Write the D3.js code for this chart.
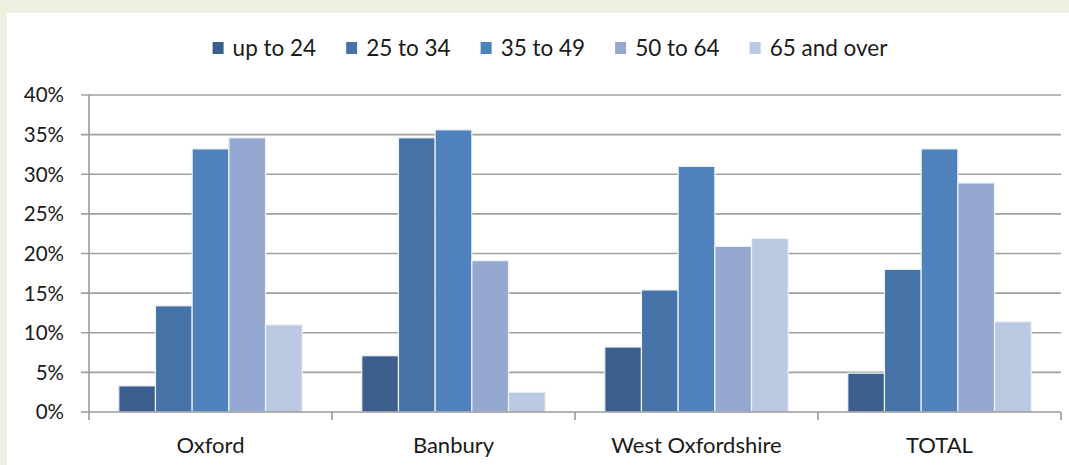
<!DOCTYPE html>
<html>
<head>
<meta charset="utf-8">
<script src="https://cdn.jsdelivr.net/npm/d3@7"></script>
<style>
  html, body { margin: 0; padding: 0; background: #EBF1DE; }
  svg { display: block; }
  text { font-family: Lato, "Open Sans", sans-serif; fill: #1a1a1a; }
</style>
</head>
<body>
<svg id="chart" width="1069" height="465"></svg>
<script>
// Age-band shares by area
const categories = ["Oxford", "Banbury", "West Oxfordshire", "TOTAL"];
const seriesNames = ["up to 24", "25 to 34", "35 to 49", "50 to 64", "65 and over"];
const upTo24     = [3.3, 7.1, 8.2, 4.9];
const age25to34  = [13.4, 34.6, 15.4, 18.0];
const age35to49  = [33.2, 35.6, 31.0, 33.2];
const age50to64  = [34.6, 19.1, 20.9, 28.9];
const age65plus  = [11.0, 2.5, 21.9, 11.4];
const yTicks = [0, 5, 10, 15, 20, 25, 30, 35, 40];

const seriesValues = [upTo24, age25to34, age35to49, age50to64, age65plus];
const colors = ["#3B5E8C", "#4572A7", "#4F81BD", "#95A9D0", "#BAC8E1"];

const svg = d3.select("#chart");

// white chart panel on the green page
svg.append("rect").attr("x", 7).attr("y", 13).attr("width", 1062).attr("height", 452).attr("fill", "#ffffff");

const plot = { left: 89, right: 1061, top: 95, bottom: 412 };

const y = d3.scaleLinear().domain([0, 40]).range([plot.bottom, plot.top]);
const x0 = d3.scaleBand().domain(categories).range([plot.left, plot.right])
  .paddingInner(0.245).paddingOuter(0.1225);
const x1 = d3.scaleBand().domain(seriesNames).range([0, x0.bandwidth()]).padding(0);

// gridlines with left tick marks
svg.append("g")
  .selectAll("line")
  .data(yTicks.filter(d => d > 0))
  .join("line")
  .attr("x1", plot.left - 8).attr("x2", plot.right)
  .attr("y1", d => y(d)).attr("y2", d => y(d))
  .attr("stroke", "#a0a0a0").attr("stroke-width", 1.6);

// y tick labels
svg.append("g")
  .selectAll("text")
  .data(yTicks)
  .join("text")
  .attr("x", 64).attr("y", d => y(d))
  .attr("dy", "0.36em")
  .attr("text-anchor", "end")
  .attr("font-size", 20.5)
  .text(d => d + "%");

// bars
const rows = categories.map((c, i) => ({ cat: c, vals: seriesNames.map((s, j) => ({ s, v: seriesValues[j][i], j })) }));
svg.append("g")
  .selectAll("g")
  .data(rows)
  .join("g")
  .attr("transform", d => `translate(${x0(d.cat)},0)`)
  .selectAll("rect")
  .data(d => d.vals)
  .join("rect")
  .attr("x", d => x1(d.s))
  .attr("width", x1.bandwidth())
  .attr("y", d => y(d.v))
  .attr("height", d => y(0) - y(d.v))
  .attr("fill", d => colors[d.j])
  .attr("stroke", "#eef2f8").attr("stroke-width", 1.2);

// axes lines
const axisG = svg.append("g").attr("stroke", "#9a9a9a").attr("stroke-width", 1.6);
axisG.append("line").attr("x1", plot.left - 8).attr("x2", plot.right).attr("y1", plot.bottom).attr("y2", plot.bottom);
axisG.append("line").attr("x1", plot.left).attr("x2", plot.left).attr("y1", plot.top).attr("y2", plot.bottom + 8);
const step = x0.step();
axisG.selectAll("line.tick")
  .data(categories)
  .join("line")
  .attr("class", "tick")
  .attr("x1", d => x0(d) - x0.paddingOuter() * step + step)
  .attr("x2", d => x0(d) - x0.paddingOuter() * step + step)
  .attr("y1", plot.bottom).attr("y2", plot.bottom + 8);

// category labels
svg.append("g")
  .selectAll("text")
  .data(categories)
  .join("text")
  .attr("x", d => x0(d) + x0.bandwidth() / 2)
  .attr("y", 453)
  .attr("text-anchor", "middle")
  .attr("font-size", 22)
  .text(d => d);

// legend, centred above the plot
const legend = svg.append("g");
const items = legend.selectAll("g").data(seriesNames).join("g");
items.append("rect").attr("width", 11).attr("height", 12).attr("y", -6)
  .attr("fill", (d, i) => colors[i]);
items.append("text").attr("x", 20).attr("y", 0).attr("dy", "0.36em")
  .attr("font-size", 22.5).text(d => d);
let cursor = 0;
items.each(function () {
  const g = d3.select(this);
  g.attr("transform", `translate(${cursor},0)`);
  const w = g.select("text").node().getComputedTextLength();
  cursor += 20 + w + 30;
});
const total = cursor - 30;
legend.attr("transform", `translate(${550 - total / 2},48)`);
</script>
</body>
</html>
